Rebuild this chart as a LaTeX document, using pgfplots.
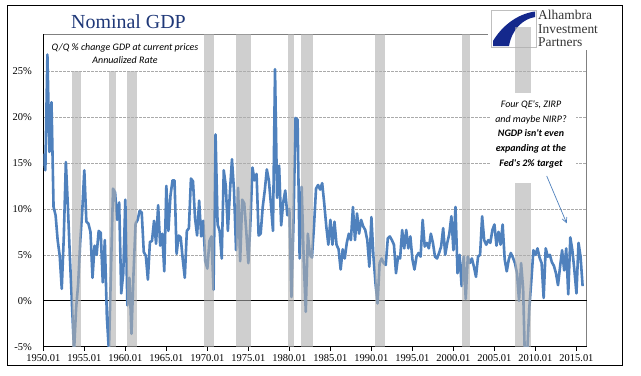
\documentclass[border=0pt]{standalone}
\usepackage{fontspec}
\setmainfont{Liberation Serif}
\newfontfamily\calibri{Carlito}
\usepackage{pgfplots}
\usepackage{pgfplotstable}
\pgfplotsset{compat=1.18}
\usetikzlibrary{arrows.meta}
\definecolor{linecol}{RGB}{79,129,189}
\definecolor{barcol}{RGB}{175,175,175}
\definecolor{titlecol}{RGB}{31,56,120}
\definecolor{logoblue}{RGB}{20,40,140}
\definecolor{gridcol}{RGB}{170,170,170}
\definecolor{bordercol}{RGB}{128,128,128}

\pgfplotstableread{
i v
0 16.0
1 14.2
2 26.8
3 16.2
4 21.6
5 10.2
6 9.3
7 6.6
8 4.9
9 1.3
10 7.0
11 15.1
12 10.2
13 4.6
14 -0.5
15 -5.5
16 -0.8
17 1.8
18 6.4
19 9.8
20 14.2
21 8.6
22 8.4
23 7.5
24 2.5
25 6.0
26 5.0
27 7.6
28 7.4
29 2.0
30 6.6
31 -1.8
32 -5.5
33 3.3
34 12.2
35 11.8
36 8.8
37 10.7
38 0.8
39 3.0
40 11.0
41 -0.5
42 2.5
43 -3.6
44 3.0
45 8.4
46 8.8
47 9.8
48 9.6
49 5.3
50 4.9
51 2.3
52 6.4
53 6.5
54 8.7
55 6.2
56 10.4
57 6.0
58 7.3
59 3.2
60 12.5
61 7.6
62 11.4
63 13.1
64 13.1
65 5.1
66 7.1
67 6.9
68 4.5
69 2.5
70 7.6
71 7.9
72 13.3
73 13.0
74 9.0
75 7.1
76 10.9
77 7.0
78 8.7
79 4.3
80 3.5
81 6.5
82 7.0
83 1.2
84 18.1
85 8.3
86 7.6
87 4.6
88 14.2
89 12.5
90 7.6
91 11.8
92 15.4
93 12.0
94 5.5
95 12.3
96 4.3
97 11.0
98 10.6
99 7.5
100 4.1
101 8.5
102 14.5
103 13.1
104 13.8
105 7.1
106 7.3
107 10.2
108 12.0
109 14.3
110 13.1
111 10.5
112 7.6
113 25.2
114 11.2
115 14.7
116 8.2
117 10.7
118 12.0
119 9.3
120 10.0
121 0.4
122 8.5
123 19.9
124 19.7
125 4.6
126 12.4
127 4.4
128 -1.2
129 7.3
130 5.0
131 4.7
132 8.1
133 12.2
134 12.6
135 12.1
136 12.8
137 10.6
138 8.1
139 6.1
140 8.8
141 6.1
142 8.6
143 6.1
144 5.6
145 3.4
146 5.6
147 4.6
148 6.3
149 7.3
150 6.6
151 10.2
152 6.6
153 9.5
154 7.3
155 8.8
156 8.1
157 7.7
158 6.6
159 3.7
160 9.1
161 4.8
162 1.9
163 -0.3
164 4.1
165 4.6
166 4.1
167 3.9
168 6.8
169 7.0
170 6.6
171 6.1
172 3.0
173 4.8
174 4.6
175 7.7
176 5.7
177 7.7
178 5.7
179 7.0
180 4.5
181 3.4
182 4.8
183 5.2
184 4.8
185 8.8
186 5.9
187 6.3
188 5.7
189 7.3
190 6.3
191 4.8
192 4.6
193 5.2
194 5.9
195 7.9
196 5.0
197 6.3
198 7.3
199 9.2
200 5.5
201 10.2
202 3.0
203 5.0
204 1.6
205 4.8
206 0.2
207 4.8
208 4.1
209 4.6
210 3.7
211 2.6
212 4.8
213 5.0
214 9.2
215 6.6
216 6.1
217 6.6
218 6.3
219 7.7
220 8.3
221 6.0
222 7.5
223 6.1
224 8.3
225 4.5
226 3.2
227 4.5
228 5.2
229 4.7
230 4.1
231 3.0
232 0.0
233 4.1
234 1.3
235 -7.7
236 -5.6
237 -0.8
238 2.2
239 5.5
240 5.0
241 5.7
242 4.7
243 4.1
244 0.3
245 5.7
246 4.8
247 5.0
248 4.2
249 3.8
250 3.0
251 1.7
252 3.7
253 5.5
254 3.3
255 5.7
256 0.7
257 6.9
258 5.5
259 3.3
260 0.8
261 6.3
262 4.8
263 1.6
}\gdp

\begin{document}
\begin{tikzpicture}[x=1bp,y=1bp]
\useasboundingbox (0,0) rectangle (641,375);
\fill[white] (0,0) rectangle (641,375);
\draw[black, line width=0.9bp] (7,10) rectangle (622.7,370);
% plot area border (top and right), partly hidden by logo
\draw[bordercol, line width=0.7bp] (43.3,340.7) -- (488,340.7);
\draw[bordercol, line width=0.7bp] (586.7,325) -- (586.7,28.3);
% logo
\draw[gray!50, line width=0.5bp, fill=white] (491.7,328) rectangle (536,365);
\fill[logoblue] (493,329) -- (493,334) .. controls (502,349) and (517,361) .. (535,363.5)
  -- (535,358) .. controls (523,356) and (512,346) .. (509,329) -- cycle;
\node[anchor=base west, inner sep=0, text=black!80, font=\fontsize{13.5}{13.5}\selectfont] at (538,355.5) {Alhambra};
\node[anchor=base west, inner sep=0, text=black!80, font=\fontsize{13.5}{13.5}\selectfont] at (538,342) {Investment};
\node[anchor=base west, inner sep=0, text=black!80, font=\fontsize{13.5}{13.5}\selectfont] at (538,328.5) {Partners};
% title
\node[anchor=base west, inner sep=0, text=titlecol, font=\fontsize{20}{24}\selectfont] at (71,346.7) {Nominal GDP};

\begin{axis}[
  at={(43.3bp,28.3bp)}, anchor=south west,
  scale only axis, width=543.4bp, height=312.4bp,
  xmin=0, xmax=265, ymin=-5, ymax=29,
  axis x line*=bottom, axis y line*=left,
  axis line style={black, line width=0.8bp},
  xtick={0,20,...,260},
  xticklabels={1950.01,1955.01,1960.01,1965.01,1970.01,1975.01,1980.01,1985.01,1990.01,1995.01,2000.01,2005.01,2010.01,2015.01},
  ytick={-5,0,5,10,15,20,25},
  yticklabels={-5\%,0\%,5\%,10\%,15\%,20\%,25\%},
  tick align=outside,
  major tick length=4bp,
  xtick style={black, line width=0.6bp},
  ytick style={draw=none},
  ticklabel style={font=\fontsize{10.5}{12}\selectfont, text=black},
  yticklabel style={xshift=-4bp},
  xticklabel style={yshift=-0.5bp},
  ymajorgrids,
  major grid style={gridcol, line width=0.6bp, dash pattern=on 2.5bp off 1.5bp},
  extra y ticks={0},
  extra y tick labels={},
  extra y tick style={grid=major, major grid style={black, solid, line width=0.8bp}},
]
\addplot[linecol, line width=2.6bp, line join=round, mark=none] table[x=i,y=v]{\gdp};
% recession bars (semi-transparent, drawn over the line)
\addplot[fill=barcol, fill opacity=0.6, draw=none, forget plot] coordinates {(13.8,-5) (13.8,25) (18.4,25) (18.4,-5)} -- cycle;
\addplot[fill=barcol, fill opacity=0.6, draw=none, forget plot] coordinates {(32.2,-5) (32.2,25) (35.4,25) (35.4,-5)} -- cycle;
\addplot[fill=barcol, fill opacity=0.6, draw=none, forget plot] coordinates {(40.8,-5) (40.8,25) (45.7,25) (45.7,-5)} -- cycle;
\addplot[fill=barcol, fill opacity=0.6, draw=none, forget plot] coordinates {(78.3,-5) (78.3,29) (83.1,29) (83.1,-5)} -- cycle;
\addplot[fill=barcol, fill opacity=0.6, draw=none, forget plot] coordinates {(93.9,-5) (93.9,29) (101.2,29) (101.2,-5)} -- cycle;
\addplot[fill=barcol, fill opacity=0.6, draw=none, forget plot] coordinates {(119.3,-5) (119.3,29) (122.2,29) (122.2,-5)} -- cycle;
\addplot[fill=barcol, fill opacity=0.6, draw=none, forget plot] coordinates {(125.6,-5) (125.6,29) (131.3,29) (131.3,-5)} -- cycle;
\addplot[fill=barcol, fill opacity=0.6, draw=none, forget plot] coordinates {(161.7,-5) (161.7,29) (166.4,29) (166.4,-5)} -- cycle;
\addplot[fill=barcol, fill opacity=0.6, draw=none, forget plot] coordinates {(204.1,-5) (204.1,29) (208.0,29) (208.0,-5)} -- cycle;
\addplot[fill=barcol, fill opacity=0.6, draw=none, forget plot] coordinates {(229.9,-5) (229.9,29) (237.7,29) (237.7,-5)} -- cycle;
\end{axis}
% top piece of the 2008 bar, above the plot area
\begin{axis}[
  at={(43.3bp,28.3bp)}, anchor=south west,
  scale only axis, width=543.4bp, height=312.4bp,
  xmin=0, xmax=265, ymin=-5, ymax=29,
  hide axis, clip=false]
\addplot[fill=barcol, fill opacity=0.6, draw=none] coordinates {(229.9,29) (229.9,29.8) (237.7,29.8) (237.7,29)} -- cycle;
\end{axis}

% subtitle
\node[anchor=base, inner sep=0, font=\calibri\itshape\fontsize{10}{12}\selectfont] at (125,325) {Q/Q \% change GDP at current prices};
\node[anchor=base, inner sep=0, font=\calibri\itshape\fontsize{10}{12}\selectfont] at (125,311.7) {Annualized Rate};

% annotation
\fill[white] (490,192) rectangle (576,282);
\node[anchor=base, inner sep=0, font=\calibri\itshape\fontsize{10}{12}\selectfont] at (531,267.5) {Four QE's, ZIRP};
\node[anchor=base, inner sep=0, font=\calibri\itshape\fontsize{10}{12}\selectfont] at (531,253) {and maybe NIRP?};
\node[anchor=base, inner sep=0, font=\calibri\bfseries\itshape\fontsize{10}{12}\selectfont] at (531,238.5) {NGDP isn't even};
\node[anchor=base, inner sep=0, font=\calibri\bfseries\itshape\fontsize{10}{12}\selectfont] at (531,223.5) {expanding at the};
\node[anchor=base, inner sep=0, font=\calibri\bfseries\itshape\fontsize{10}{12}\selectfont] at (531,208.5) {Fed's 2\% target};
\draw[linecol, line width=0.7bp, -{Straight Barb[length=5bp, width=5bp]}] (546.7,199) -- (566.7,151.7);
\end{tikzpicture}
\end{document}
